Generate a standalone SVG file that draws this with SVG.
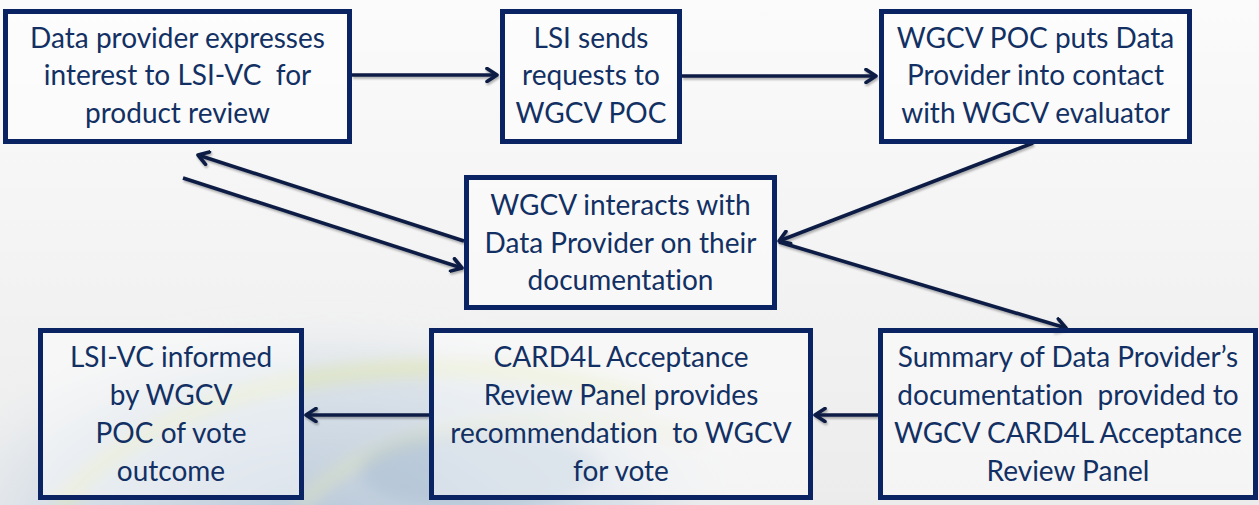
<svg xmlns="http://www.w3.org/2000/svg" width="1259" height="505" viewBox="0 0 1259 505">
  <defs>
    <linearGradient id="bg" x1="0" y1="0" x2="0" y2="1">
      <stop offset="0" stop-color="#fbfbfb"/>
      <stop offset="1" stop-color="#ececec"/>
    </linearGradient>
    <radialGradient id="globe" cx="0.5" cy="0.5" r="0.5">
      <stop offset="0" stop-color="#9fb7d0" stop-opacity="0.65"/>
      <stop offset="0.7" stop-color="#bccee0" stop-opacity="0.4"/>
      <stop offset="1" stop-color="#e6ecf1" stop-opacity="0"/>
    </radialGradient>
    <filter id="blur" x="-20%" y="-20%" width="140%" height="140%">
      <feGaussianBlur stdDeviation="8"/>
    </filter>
    <filter id="shadow" x="-10%" y="-10%" width="120%" height="130%">
      <feDropShadow dx="1" dy="2" stdDeviation="1.2" flood-color="#000" flood-opacity="0.3"/>
    </filter>
    <marker id="arr" viewBox="0 0 16 16" refX="13" refY="8" markerWidth="16" markerHeight="16" markerUnits="userSpaceOnUse" orient="auto">
      <path d="M3,1.5 L13,8 L3,14.5" fill="none" stroke="#0c1c44" stroke-width="3.6" stroke-linecap="round" stroke-linejoin="round"/>
    </marker>
    <style>
      .box { fill: #ffffff; fill-opacity: 0.45; stroke: #0a2463; stroke-width: 5; }
      .lbl { font-family: Lato, "Liberation Sans", sans-serif; font-size: 28px; fill: #123063; text-anchor: middle; white-space: pre; font-variant-ligatures: none; }
      .con { fill: none; stroke: #0c1c44; stroke-width: 3.6; marker-end: url(#arr); }
    </style>
  </defs>

  <rect x="0" y="0" width="1259" height="505" fill="url(#bg)"/>
  <g id="background-globe" filter="url(#blur)">
    <ellipse cx="330" cy="520" rx="420" ry="210" fill="url(#globe)"/>
    <path d="M60,505 C160,380 420,330 650,400" fill="none" stroke="#e0e6a8" stroke-width="14" stroke-opacity="0.65"/>
    <path d="M300,505 C380,420 540,400 700,440" fill="none" stroke="#e3e8b0" stroke-width="10" stroke-opacity="0.55"/>
    <ellipse cx="480" cy="470" rx="120" ry="40" fill="#9fb6cc" fill-opacity="0.4"/>
  </g>

  <g id="connectors" filter="url(#shadow)">
    <line class="con" x1="352" y1="75" x2="497" y2="75"/>
    <line class="con" x1="682" y1="76" x2="876" y2="76"/>
    <line class="con" x1="1033" y1="143" x2="779" y2="241"/>
    <line class="con" x1="779" y1="242" x2="1066" y2="328"/>
    <line class="con" x1="464" y1="241" x2="198" y2="155"/>
    <line class="con" x1="183" y1="178" x2="462" y2="268"/>
    <line class="con" x1="878" y1="415" x2="815" y2="415"/>
    <line class="con" x1="429" y1="415" x2="306" y2="415"/>
  </g>

  <g id="node-interest">
    <rect class="box" x="5.5" y="11.5" width="344" height="130"/>
    <text class="lbl" x="177.5" y="47.5">Data provider expresses</text>
    <text class="lbl" x="177.5" y="85">interest to LSI-VC  for</text>
    <text class="lbl" x="177.5" y="122.5">product review</text>
  </g>

  <g id="node-lsi-sends">
    <rect class="box" x="502.5" y="11.5" width="177" height="130"/>
    <text class="lbl" x="591" y="47.5">LSI sends</text>
    <text class="lbl" x="591" y="85">requests to</text>
    <text class="lbl" x="591" y="122.5">WGCV POC</text>
  </g>

  <g id="node-wgcv-poc">
    <rect class="box" x="881.5" y="11.5" width="308" height="130"/>
    <text class="lbl" x="1035.5" y="47.5">WGCV POC puts Data</text>
    <text class="lbl" x="1035.5" y="85">Provider into contact</text>
    <text class="lbl" x="1035.5" y="122.5">with WGCV evaluator</text>
  </g>

  <g id="node-wgcv-interacts">
    <rect class="box" x="466.5" y="177.5" width="308" height="130"/>
    <text class="lbl" x="620.5" y="215">WGCV interacts with</text>
    <text class="lbl" x="620.5" y="252.5">Data Provider on their</text>
    <text class="lbl" x="620.5" y="290">documentation</text>
  </g>

  <g id="node-summary">
    <rect class="box" x="880.5" y="330.5" width="375" height="167"/>
    <text class="lbl" x="1068" y="367">Summary of Data Provider’s</text>
    <text class="lbl" x="1068" y="405">documentation  provided to</text>
    <text class="lbl" x="1068" y="443">WGCV CARD4L Acceptance</text>
    <text class="lbl" x="1068" y="481">Review Panel</text>
  </g>

  <g id="node-panel">
    <rect class="box" x="431.5" y="330.5" width="379" height="167"/>
    <text class="lbl" x="621" y="367">CARD4L Acceptance</text>
    <text class="lbl" x="621" y="405">Review Panel provides</text>
    <text class="lbl" x="621" y="443">recommendation  to WGCV</text>
    <text class="lbl" x="621" y="481">for vote</text>
  </g>

  <g id="node-informed">
    <rect class="box" x="40.5" y="330.5" width="261" height="167"/>
    <text class="lbl" x="171" y="367">LSI-VC informed</text>
    <text class="lbl" x="171" y="405">by WGCV</text>
    <text class="lbl" x="171" y="443">POC of vote</text>
    <text class="lbl" x="171" y="481">outcome</text>
  </g>
</svg>
